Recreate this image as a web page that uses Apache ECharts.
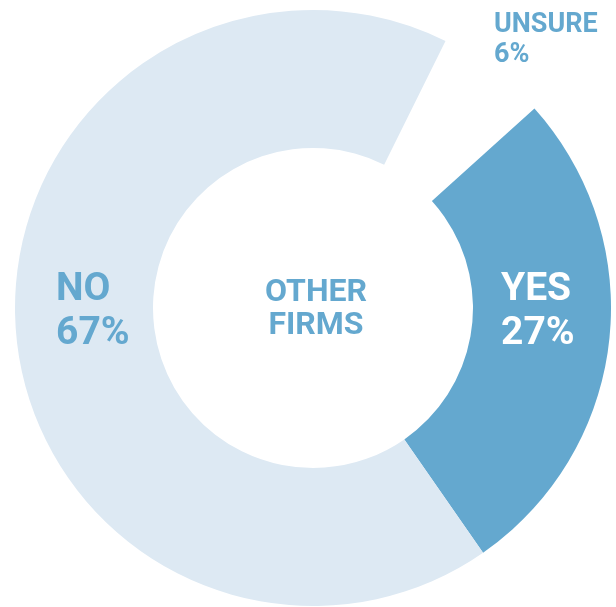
<!DOCTYPE html>
<html>
<head>
<meta charset="utf-8">
<script src="https://cdn.jsdelivr.net/npm/echarts@6/dist/echarts.min.js"></script>
<style>
  html, body { margin: 0; padding: 0; background: #ffffff; }
  #chart { width: 616px; height: 607px; }
</style>
</head>
<body>
<div id="chart"></div>
<script>
// Survey answers for "other firms" (percent)
const categories = ['YES', 'NO', 'UNSURE'];
const values = [27, 67, 6];
const sliceColors = ['#64a8cf', '#dde9f3', 'rgba(0,0,0,0)'];
const labelColors = ['#ffffff', '#64a8cf', '#64a8cf'];
const centerTitle = 'OTHER\nFIRMS';

// label anchor (left edge, vertical middle) for each answer
const labelAnchors = [
  { x: 501, y: 312, size: 39, line: 44 },
  { x: 56, y: 312, size: 39, line: 44 },
  { x: 494, y: 40, size: 27, line: 30 }
];

const chart = echarts.init(document.getElementById('chart'));

chart.setOption({
  animation: false,
  title: {
    text: centerTitle,
    left: 311,
    top: 271,
    textAlign: 'center',
    textStyle: {
      color: '#64a8cf',
      fontFamily: 'Roboto',
      fontWeight: 'bold',
      fontSize: 32,
      lineHeight: 33
    }
  },
  series: [{
    type: 'pie',
    center: [313, 308],
    radius: [160, 298],
    startAngle: 42,
    clockwise: true,
    silent: true,
    avoidLabelOverlap: false,
    labelLine: { show: false },
    label: {
      show: true,
      position: 'inside',
      fontFamily: 'Roboto',
      fontWeight: 'bold'
    },
    labelLayout: function (params) {
      const a = labelAnchors[params.dataIndex];
      return { x: a.x, y: a.y, align: 'left', verticalAlign: 'middle' };
    },
    data: categories.map((name, i) => ({
      name: name,
      value: values[i],
      itemStyle: { color: sliceColors[i] },
      label: {
        formatter: '{b}\n{c}%',
        color: labelColors[i],
        fontSize: labelAnchors[i].size,
        lineHeight: labelAnchors[i].line,
        align: 'left'
      }
    }))
  }]
});
</script>
</body>
</html>
